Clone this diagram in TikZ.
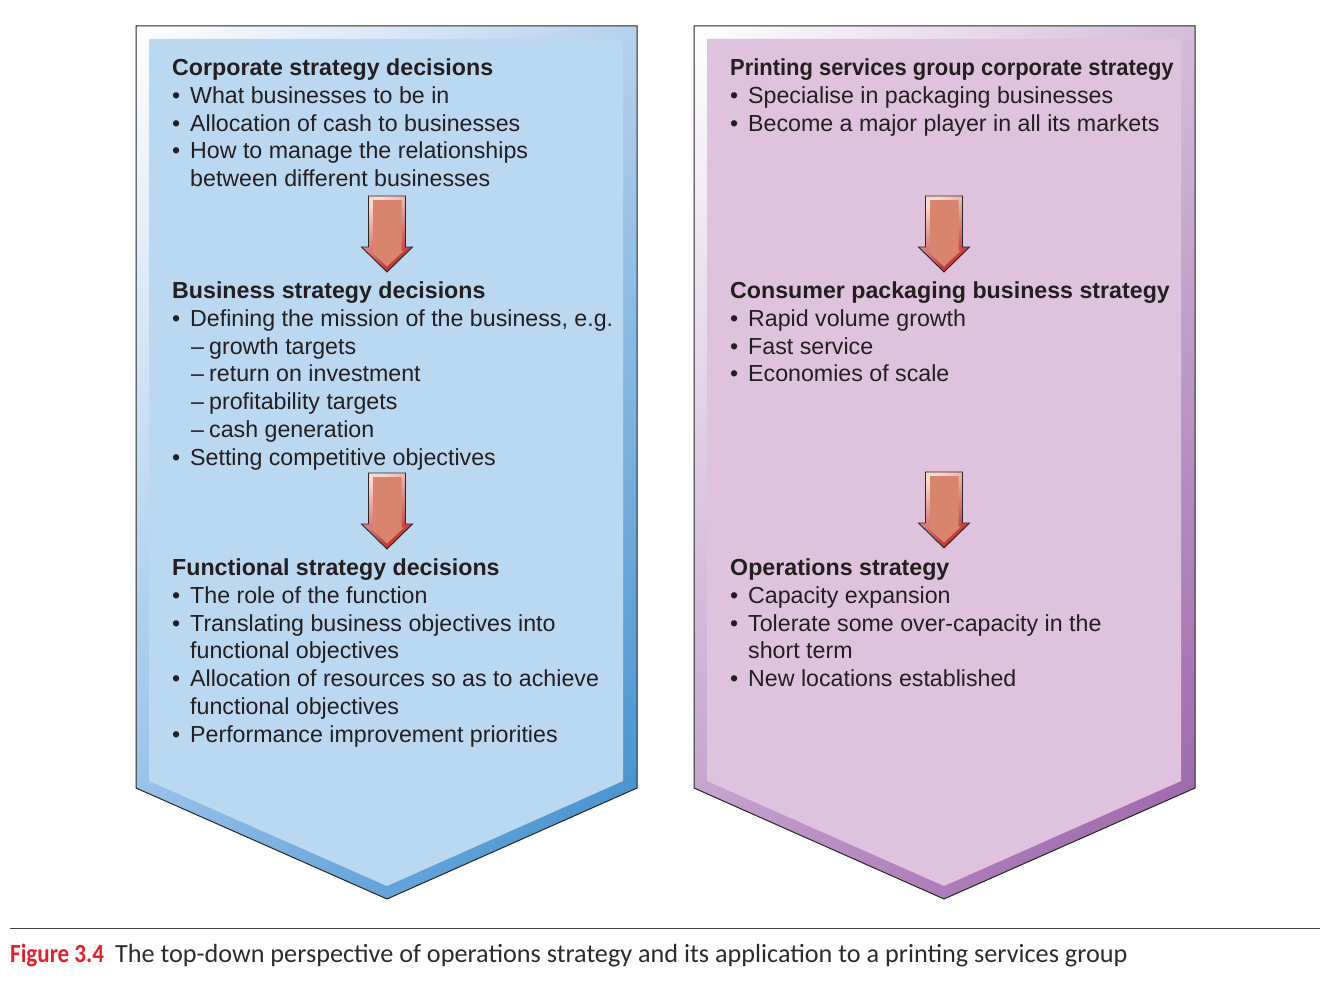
\documentclass[tikz,border=0pt]{standalone}
\usepackage{fontspec}
\usepackage{graphicx}
\setmainfont{Liberation Sans}
\newfontfamily\capfont{Carlito}
\usetikzlibrary{shadings}
\definecolor{blueinner}{HTML}{BBD8F1}
\definecolor{blueTR}{HTML}{B6D1EC}
\definecolor{blueBL}{HTML}{8CBAE6}
\definecolor{blueBR}{HTML}{3A8BCC}
\definecolor{purpinner}{HTML}{DFC2DD}
\definecolor{purpTR}{HTML}{D5BCDB}
\definecolor{purpBL}{HTML}{BF98CA}
\definecolor{purpBR}{HTML}{985EA5}
\definecolor{arrfill}{HTML}{D9846D}
\definecolor{arrlight}{HTML}{F6D9CF}
\definecolor{arrdark}{HTML}{C0282A}
\definecolor{textcol}{HTML}{231F20}
\definecolor{capred}{HTML}{E3202A}
\definecolor{captext}{HTML}{2B2B2B}
\newcommand\hd[1]{\textbf{#1}\par}
\newcommand\bu[1]{\hangindent=18pt\hangafter=1\noindent\makebox[18pt][l]{•}#1\par}
\newcommand\sd[1]{\hangindent=37pt\hangafter=1\noindent\hspace*{19pt}\makebox[18pt][l]{–}#1\par}
\newcommand\blk[1]{\begin{minipage}[t]{470pt}#1\end{minipage}}
\tikzset{
  txt/.style={inner sep=0pt, anchor=base west, text=textcol, font=\fontsize{23.2}{27.8}\selectfont},
  outline/.style={draw=black!85, line width=1pt},
  blockarrow/.pic={
    \shade[top color=arrlight, bottom color=arrdark, shading angle=35]
      (-18.5,0) -- (18.5,0) -- (18.5,51) -- (25.5,51) -- (0,76) -- (-25.5,51) -- (-18.5,51) -- cycle;
    \fill[arrfill] (-14,4) -- (14.5,4) -- (14.5,54.5) -- (17,54.5) -- (0,70.5) -- (-17,54.5) -- (-14,54.5) -- cycle;
    \draw[black!85, line width=0.9pt, line join=miter]
      (-18.5,0) -- (18.5,0) -- (18.5,51) -- (25.5,51) -- (0,76) -- (-25.5,51) -- (-18.5,51) -- cycle;
  }
}
\begin{document}
\begin{tikzpicture}[x=1pt,y=-1pt]
\useasboundingbox (0,0) rectangle (1325,998);
% left chevron
\shade[upper left=white, upper right=blueTR, lower left=blueBL, lower right=blueBR]
  (136,26) -- (637,26) -- (637,788) -- (387,899) -- (136,788) -- cycle;
\fill[blueinner] (149,39) -- (623,39) -- (623,781) -- (387,886) -- (149,781) -- cycle;
\draw[outline] (136,26) -- (637,26) -- (637,788) -- (387,899) -- (136,788) -- cycle;
% right chevron
\shade[upper left=white, upper right=purpTR, lower left=purpBL, lower right=purpBR]
  (694,26) -- (1195,26) -- (1195,788) -- (944,899) -- (694,788) -- cycle;
\fill[purpinner] (707,39) -- (1181,39) -- (1181,781) -- (944,886) -- (707,781) -- cycle;
\draw[outline] (694,26) -- (1195,26) -- (1195,788) -- (944,899) -- (694,788) -- cycle;
% left texts
\node[txt] (corp) at (172,75.5) {\blk{\hd{Corporate strategy decisions}
\bu{What businesses to be in}
\bu{Allocation of cash to businesses}
\bu{How to manage the relationships\\between different businesses}}};
\node[txt] (bus) at (172,298.5) {\blk{\hd{Business strategy decisions}
\bu{Defining the mission of the business, e.g.}
\sd{growth targets}
\sd{return on investment}
\sd{profitability targets}
\sd{cash generation}
\bu{Setting competitive objectives}}};
\node[txt] (func) at (172,575.5) {\blk{\hd{Functional strategy decisions}
\bu{The role of the function}
\bu{Translating business objectives into\\functional objectives}
\bu{Allocation of resources so as to achieve\\functional objectives}
\bu{Performance improvement priorities}}};
% right texts
\node[txt] (pcorp) at (730,75.5) {\blk{\hd{\scalebox{0.945}[1]{Printing services group corporate strategy}}
\bu{Specialise in packaging businesses}
\bu{Become a major player in all its markets}}};
\node[txt] (pbus) at (730,298.5) {\blk{\hd{Consumer packaging business strategy}
\bu{Rapid volume growth}
\bu{Fast service}
\bu{Economies of scale}}};
\node[txt] (pops) at (730,575.5) {\blk{\hd{Operations strategy}
\bu{Capacity expansion}
\bu{Tolerate some over-capacity in the\\short term}
\bu{New locations established}}};
% arrows
\pic at (387,196) {blockarrow};
\pic at (387,473) {blockarrow};
\pic at (944,196) {blockarrow};
\pic at (944,472) {blockarrow};
% caption
\draw[black!75, line width=0.8pt] (10,928) -- (1320,928);
\node[inner sep=0pt, anchor=base west] (cap) at (10,962) {\capfont\fontsize{26.2}{30}\selectfont\textcolor{capred}{\scalebox{0.88}[1]{\textbf{Figure 3.4}}}\hspace{11pt}\textcolor{captext}{The top-down perspective of operations strategy and its application to a printing services group}};
\end{tikzpicture}
\end{document}
